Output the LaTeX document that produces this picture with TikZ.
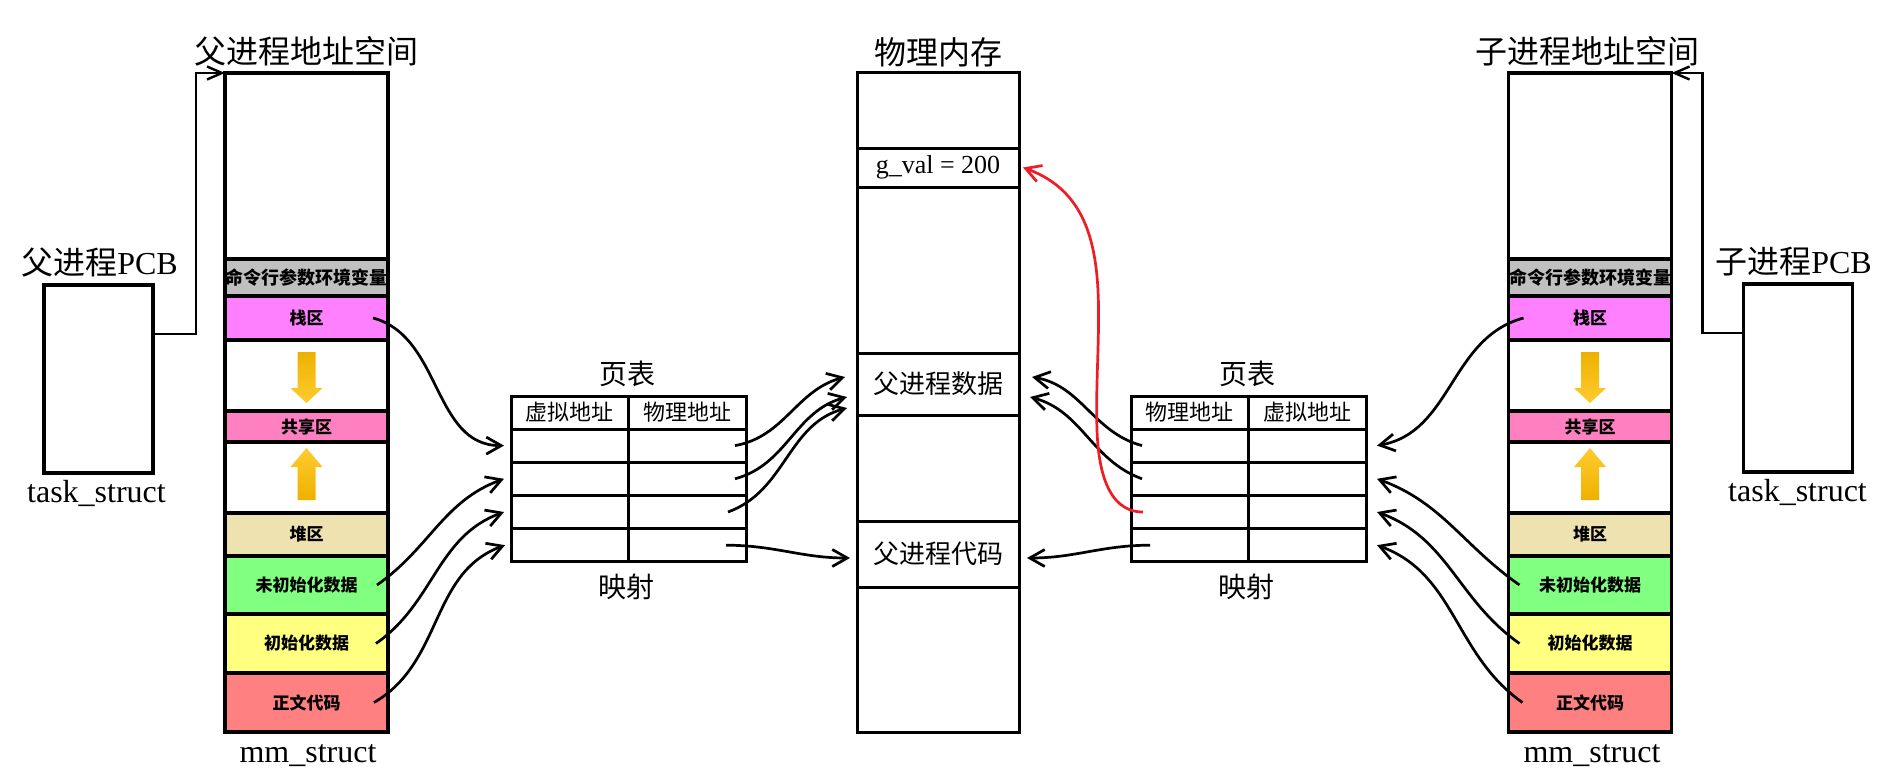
\documentclass[tikz,border=0pt]{standalone}
\usepackage{fontspec}
\setmainfont{Liberation Serif}
\newfontfamily\cjk{Noto Sans CJK SC}
\usetikzlibrary{arrows.meta}
\definecolor{cmdgray}{HTML}{C0C0C0}
\definecolor{stackpink}{HTML}{FF80FF}
\definecolor{sharepink}{HTML}{FF80C0}
\definecolor{heaptan}{HTML}{EEE3B0}
\definecolor{bssgreen}{HTML}{80FF80}
\definecolor{datayellow}{HTML}{FFFF80}
\definecolor{textred}{HTML}{FF8080}
\definecolor{growdark}{HTML}{EDB100}
\definecolor{growlight}{HTML}{FFCB2E}
\definecolor{copyred}{HTML}{EE1C24}
\tikzset{
  segbox/.style={draw, line width=3.2pt, outer sep=0pt, inner sep=0pt, minimum width=163pt,
    font=\fontsize{17pt}{17pt}\cjk\bfseries},
  membox/.style={draw, line width=3pt, outer sep=0pt, inner sep=0pt, minimum width=162pt,
    font=\fontsize{26pt}{26pt}\cjk},
  ptebox/.style={draw, line width=3pt, outer sep=0pt, inner sep=0pt, minimum width=117.5pt,
    minimum height=33.2pt, font=\fontsize{22pt}{22pt}\cjk},
  pcbbox/.style={draw, line width=3.3pt, outer sep=0pt, minimum width=109pt, minimum height=188pt},
  heading/.style={inner sep=0pt, font=\fontsize{32pt}{32pt}\cjk},
  subhead/.style={inner sep=0pt, font=\fontsize{28pt}{28pt}\cjk},
  latin/.style={inner sep=0pt, font=\fontsize{32pt}{32pt}\selectfont},
  maplink/.style={line width=2.7pt, -{Straight Barb[length=15pt,width=17pt]}},
  ownlink/.style={line width=2.4pt, -{Straight Barb[length=15pt,width=13pt]}},
  redlink/.style={maplink, draw=copyred}
}
\begin{document}
\begin{tikzpicture}[x=1pt, y=-1pt]
\useasboundingbox (0,0) rectangle (1897,776);

\foreach \s/\cx in {p/306.5, c/1590}{
  \foreach \n/\t/\b/\c/\txt in {top/73/259/white/{}, cmd/259/296/cmdgray/{\fontsize{18pt}{18pt}\selectfont 命令行参数环境变量},
      stack/296/340/stackpink/栈区, down/340/411/white/{}, share/411/442/sharepink/共享区, up/442/513/white/{},
      heap/513/556/heaptan/堆区, bss/556/614/bssgreen/未初始化数据, data/614/673/datayellow/初始化数据,
      text/673/732/textred/正文代码}
    \node[segbox, fill=\c, minimum height={(\b-\t)*1pt}] (\s\n) at (\cx,{(\t+\b)/2}) {\txt};
  \shade[top color=growdark, bottom color=growlight, shift={(\s down)}]
    (-9,-23.5) -- (9,-23.5) -- (9,12.5) -- (16,12.5) -- (0,27.5) -- (-16,12.5) -- (-9,12.5) -- cycle;
  \shade[top color=growlight, bottom color=growdark, shift={(\s up)}]
    (0,-29.5) -- (16,-10.5) -- (9,-10.5) -- (9,22.5) -- (-9,22.5) -- (-9,-10.5) -- (-16,-10.5) -- cycle;
}

\node[heading] (ptitle) at (306.5,51) {父进程地址空间};
\node[heading] (ctitle) at (1587,51) {子进程地址空间};
\node[heading] (memtitle) at (938,52) {物理内存};
\node[heading] (ppcbtitle) at (99.5,262.5) {父进程\rmfamily PCB};
\node[heading] (cpcbtitle) at (1793.5,262) {子进程\rmfamily PCB};
\node[latin] (ptask) at (96.5,493) {task\_struct};
\node[latin] (ctask) at (1797.5,492) {task\_struct};
\node[latin] (pmm) at (308,756) {mm\_struct};
\node[latin] (cmm) at (1592,756) {mm\_struct};

\node[pcbbox] (ppcb) at (98.5,379) {};
\node[pcbbox] (cpcb) at (1798,378) {};

\foreach \n/\t/\b/\txt in {top/72/148/{}, gval/148/187/{\rmfamily g\_val = 200}, gap1/187/353/{},
    data/353/415/父进程数据, gap2/415/521/{}, code/521/587/父进程代码, bottom/587/732/{}}
  \node[membox, minimum height={(\b-\t)*1pt}] (m\n) at (938,{(\t+\b)/2}) {\txt};

\node[ptebox, minimum height=33pt] (lhv) at (569.75,412.5) {虚拟地址};
\node[ptebox, minimum height=33pt] (lhp) at (687.25,412.5) {物理地址};
\node[ptebox, minimum height=33pt] (rhp) at (1189.75,412.5) {物理地址};
\node[ptebox, minimum height=33pt] (rhv) at (1307.25,412.5) {虚拟地址};
\foreach \i in {1,...,4}{
  \node[ptebox] (lv\i) at (569.75,{429+33.2*(\i-0.5)}) {};
  \node[ptebox] (lp\i) at (687.25,{429+33.2*(\i-0.5)}) {};
  \node[ptebox] (rp\i) at (1189.75,{429+33.2*(\i-0.5)}) {};
  \node[ptebox] (rv\i) at (1307.25,{429+33.2*(\i-0.5)}) {};
}
\node[subhead] (lpt) at (627,374) {页表};
\node[subhead] (lmap) at (626,587) {映射};
\node[subhead] (rpt) at (1247,374) {页表};
\node[subhead] (rmap) at (1246,587) {映射};

\draw[ownlink] ([yshift=45pt]ppcb.east) -- ++(43,0) |- (ptop.north west);
\draw[ownlink] ([yshift=45pt]cpcb.west) -- ++(-41,0) |- (ctop.north east);

\draw[maplink] ([xshift=-15pt]pstack.east) to[out=-15,in=180] ([xshift=-7pt]lv1.west);
\draw[maplink] ([xshift=-11pt]pbss.east) to[out=35,in=200] ([xshift=-7pt]lv2.west);
\draw[maplink] ([xshift=-12pt]pdata.east) to[out=35,in=200] ([xshift=-7pt]lv3.west);
\draw[maplink] ([xshift=-14pt]ptext.east) to[out=30,in=200] ([xshift=-6pt]lv4.west);

\draw[maplink] ([xshift=-11pt]lp1.east) to[out=10,in=195] ([xshift=-12pt,yshift=7pt]mdata.west);
\draw[maplink] ([xshift=-11pt]lp2.east) to[out=15,in=195] ([xshift=-10pt,yshift=-13pt]mdata.west);
\draw[maplink] ([xshift=-18pt]lp3.east) to[out=20,in=195] ([xshift=-10pt,yshift=-24pt]mdata.west);
\draw[maplink] ([xshift=-20pt]lp4.east) to[out=0,in=180] ([xshift=-7pt,yshift=-4pt]mcode.west);

\draw[maplink] ([xshift=11pt]rp1.west) to[out=165,in=-10] ([xshift=13pt,yshift=7pt]mdata.east);
\draw[maplink] ([xshift=11pt]rp2.west) to[out=160,in=-15] ([xshift=11pt,yshift=-13pt]mdata.east);
\draw[maplink] ([xshift=19pt]rp4.west) to[out=180,in=0] ([xshift=8pt,yshift=-4pt]mcode.east);
\coordinate (bend) at (1097,430);
\draw[redlink] ([xshift=12pt]rp3.west) to[out=180,in=-88] (bend) to[out=92,in=-20] ([xshift=4pt]mgval.east);

\draw[maplink] ([xshift=15pt]cstack.west) to[out=195,in=10] ([xshift=11pt]rv1.east);
\draw[maplink] ([xshift=11pt]cbss.west) to[out=145,in=-20] ([xshift=11pt]rv2.east);
\draw[maplink] ([xshift=11pt]cdata.west) to[out=145,in=-20] ([xshift=11pt]rv3.east);
\draw[maplink] ([xshift=14pt]ctext.west) to[out=145,in=-20] ([xshift=11pt]rv4.east);
\end{tikzpicture}
\end{document}
